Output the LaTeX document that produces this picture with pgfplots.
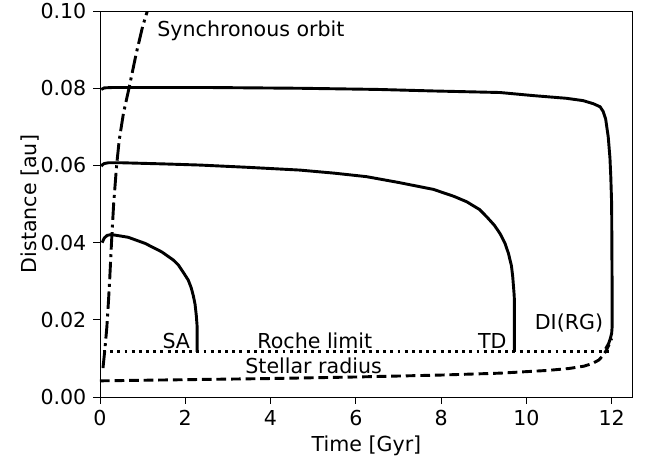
\documentclass[border=0pt]{standalone}
\usepackage{fontspec}
\setmainfont{DejaVu Sans}
\usepackage{pgfplots}
\pgfplotsset{compat=1.18}
\begin{document}
\begin{tikzpicture}[font=\fontsize{10.6}{12.7}\selectfont]
\path[use as bounding box] (-51.5pt,-30.9pt) rectangle (280.7pt,204.5pt);
\begin{axis}[
    scale only axis, width=274.5pt, height=198.8pt,
    xmin=0, xmax=12.5, ymin=0, ymax=0.1,
    xtick={0,2,4,6,8,10,12},
    ytick={0,0.02,0.04,0.06,0.08,0.1},
    scaled y ticks=false,
    yticklabel style={/pgf/number format/.cd, fixed, fixed zerofill, precision=2},
    /pgf/number format/assume math mode=true,
    tick align=outside, tick pos=left,
    major tick length=3.5pt,
    every tick/.style={black, line width=0.5pt},
    axis line style={line width=0.5pt},
    xlabel={Time [Gyr]}, ylabel={Distance [au]},
    xlabel shift=-2pt, ylabel shift=-6pt,
    clip=true,
]
% stellar radius
\addplot[black, line width=1.5pt, dash pattern=on 5pt off 2.5pt] coordinates {
    (0,0.0042) (2,0.0045) (4,0.0048) (6,0.0052) (8,0.0057) (9.4,0.0062)
    (10.5,0.0069) (11,0.0074) (11.35,0.0080) (11.55,0.0087) (11.7,0.0096)
    (11.8,0.0108) (11.88,0.0122) (11.95,0.0138) (12.0,0.0152)
};
% Roche limit
\addplot[black, line width=1.5pt, dash pattern=on 1.5pt off 2.2pt] coordinates {
    (0.07,0.0117) (11.97,0.0117)
};
% synchronous orbit
\addplot[black, line width=1.5pt, dash pattern=on 9pt off 2.4pt on 1.5pt off 2.4pt] coordinates {
    (0.07,0.0075) (0.12,0.013) (0.16,0.018) (0.2,0.025) (0.23,0.031)
    (0.27,0.040) (0.32,0.050) (0.39,0.060) (0.45,0.0665) (0.55,0.0735)
    (0.68,0.080) (0.85,0.089) (1.0,0.096) (1.11,0.100) (1.14,0.1015)
};
% SA
\addplot[black, line width=1.5pt] coordinates {
    (0.05,0.0400) (0.1,0.0412) (0.17,0.0419) (0.27,0.0421) (0.66,0.0414)
    (1.06,0.0398) (1.45,0.0376) (1.72,0.0355) (1.84,0.0342) (1.96,0.0322)
    (2.07,0.0303) (2.14,0.0283) (2.19,0.0262) (2.23,0.0240) (2.26,0.0210)
    (2.28,0.0180) (2.28,0.0117)
};
% TD
\addplot[black, line width=1.5pt] coordinates {
    (0.03,0.0598) (0.06,0.0602) (0.1,0.0605) (0.2,0.0607) (0.5,0.0607)
    (1.5,0.0604) (2.35,0.0601) (3.5,0.0595) (4.69,0.0588) (5.5,0.0580)
    (6.25,0.0571) (7.0,0.0556) (7.82,0.0538) (8.3,0.0520) (8.6,0.0506)
    (8.9,0.0486) (9.07,0.0467) (9.25,0.0445) (9.38,0.0424) (9.5,0.0398)
    (9.58,0.0372) (9.65,0.0340) (9.68,0.0312) (9.71,0.0270) (9.72,0.0251)
    (9.72,0.0117)
};
% DI(RG)
\addplot[black, line width=1.5pt] coordinates {
    (0.03,0.0797) (0.1,0.0801) (0.3,0.0802) (0.77,0.0802) (2.5,0.0802)
    (4.69,0.0800) (6.5,0.0797) (7.82,0.0793) (9.38,0.0789) (10.16,0.0781)
    (10.94,0.0774) (11.33,0.0768) (11.57,0.0760) (11.73,0.0752) (11.8,0.0740)
    (11.86,0.0720) (11.92,0.0674) (11.96,0.0620) (11.98,0.0571) (12.0,0.0500)
    (12.01,0.0300) (12.01,0.0180) (12.0,0.0165) (11.97,0.0152) (11.93,0.0139)
    (11.86,0.0125)
};
\node at (axis cs:3.54,0.0948) {Synchronous orbit};
\node at (axis cs:1.79,0.0145) {SA};
\node at (axis cs:5.04,0.0145) {Roche limit};
\node at (axis cs:9.2,0.0145) {TD};
\node at (axis cs:11.0,0.0192) {DI(RG)};
\node at (axis cs:5.01,0.0080) {Stellar radius};
\end{axis}
\end{tikzpicture}
\end{document}
